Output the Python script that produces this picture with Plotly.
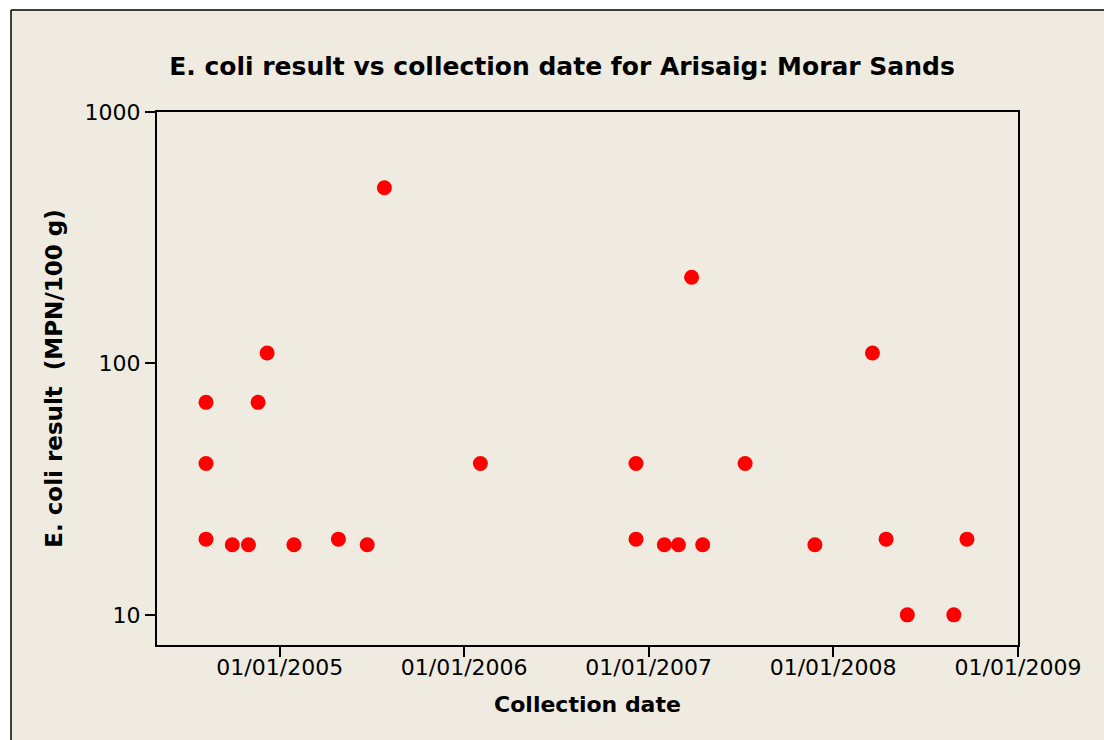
import plotly.graph_objects as go

collection_dates = [
    "2004-08-08", "2004-08-08", "2004-08-08", "2004-09-29", "2004-10-31",
    "2004-11-19", "2004-12-07", "2005-01-29", "2005-04-27", "2005-06-23",
    "2005-07-27", "2006-02-02", "2006-12-07", "2006-12-07", "2007-02-01",
    "2007-03-01", "2007-03-27", "2007-04-18", "2007-07-11", "2007-11-26",
    "2008-03-19", "2008-04-15", "2008-05-27", "2008-08-27", "2008-09-22",
]
ecoli_results = [
    70, 40, 20, 19, 19,
    70, 110, 19, 20, 19,
    500, 40, 40, 20, 19,
    19, 220, 19, 40, 19,
    110, 20, 10, 10, 20,
]
x_tick_vals = ["2005-01-01", "2006-01-01", "2007-01-01", "2008-01-01", "2009-01-01"]
x_tick_text = ["01/01/2005", "01/01/2006", "01/01/2007", "01/01/2008", "01/01/2009"]
y_tick_vals = [10, 100, 1000]
y_tick_text = ["10", "100", "1000"]

W, H = 1104, 740
ML, MR, MT, MB = 157, 86, 112, 95
pw, ph = W - ML - MR, H - MT - MB

def px_x(px):
    return (px - ML) / pw

def px_y(py):
    return 1 - (py - MT) / ph

BEIGE = "#EFEBE1"
FONT = "DejaVu Sans"

fig = go.Figure()
fig.add_trace(go.Scatter(
    x=collection_dates, y=ecoli_results, mode="markers",
    marker=dict(color="#FF0000", size=15, line=dict(width=0)),
    showlegend=False,
))

frame_shapes = [
    dict(type="rect", xref="paper", yref="paper", layer="below",
         x0=px_x(11), x1=px_x(1200), y0=px_y(800), y1=px_y(10),
         fillcolor=BEIGE, line=dict(width=0)),
    dict(type="line", xref="paper", yref="paper", layer="below",
         x0=px_x(11), x1=px_x(1200), y0=px_y(10), y1=px_y(10),
         line=dict(color="black", width=1.5)),
    dict(type="line", xref="paper", yref="paper", layer="below",
         x0=px_x(11), x1=px_x(11), y0=px_y(10), y1=px_y(800),
         line=dict(color="black", width=1.5)),
]

fig.update_layout(
    width=W, height=H,
    margin=dict(l=ML, r=MR, t=MT, b=MB),
    paper_bgcolor="white",
    plot_bgcolor="white",
    font=dict(family=FONT, color="black"),
    title=dict(
        text="<b>E. coli result vs collection date for Arisaig: Morar Sands</b>",
        x=562 / W, xanchor="center", y=1 - 66 / H, yanchor="middle",
        font=dict(size=25, family=FONT, color="black"),
    ),
    shapes=frame_shapes,
    xaxis=dict(
        type="date",
        range=["2004-05-03", "2009-01-01"],
        tickvals=x_tick_vals, ticktext=x_tick_text,
        ticks="outside", ticklen=10, tickwidth=2, tickcolor="black",
        ticklabelstandoff=-8,
        showline=True, linecolor="black", linewidth=2, mirror=True,
        showgrid=False, zeroline=False,
        tickfont=dict(size=22, family=FONT),
        title=dict(text="<b>Collection date</b>", font=dict(size=22, family=FONT), standoff=17),
    ),
    yaxis=dict(
        type="log",
        range=[0.88, 3],
        tickvals=y_tick_vals, ticktext=y_tick_text,
        ticks="outside", ticklen=10, tickwidth=2, tickcolor="black",
        showline=True, linecolor="black", linewidth=2, mirror=True,
        showgrid=False, zeroline=False,
        tickfont=dict(size=22, family=FONT),
        title=dict(text="<b>E. coli result  (MPN/100 g)</b>", font=dict(size=23, family=FONT), standoff=16),
    ),
)

fig.write_html(
    "out.html",
    config={"displayModeBar": False},
    post_script="document.body.style.margin='0';document.body.style.overflow='hidden';",
)
